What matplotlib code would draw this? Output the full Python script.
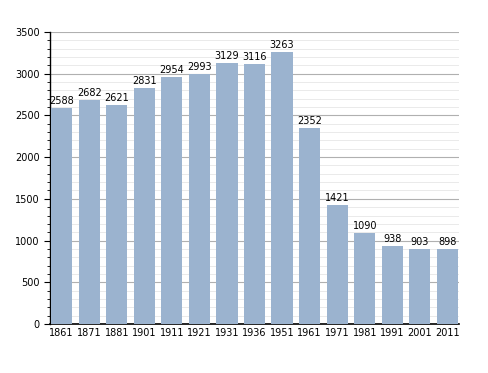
import matplotlib
matplotlib.use("Agg")
import matplotlib.pyplot as plt
from matplotlib.ticker import MultipleLocator

anni = ["1861", "1871", "1881", "1901", "1911", "1921", "1931", "1936",
        "1951", "1961", "1971", "1981", "1991", "2001", "2011"]
abitanti = [2588, 2682, 2621, 2831, 2954, 2993, 3129, 3116,
            3263, 2352, 1421, 1090, 938, 903, 898]

fig = plt.figure(figsize=(4.88, 3.73), dpi=100)
ax = fig.add_axes([0.1025, 0.1314, 0.838, 0.783])

x = range(len(anni))
barre = ax.bar(x, abitanti, width=0.77, color="#9bb3cf", zorder=3)
for xi, v in zip(x, abitanti):
    ax.text(xi, v + 25, str(v), ha="center", va="bottom", fontsize=7, zorder=4)

ax.set_xlim(-0.42, len(anni) - 0.58)
ax.set_ylim(0, 3500)
ax.set_xticks(list(x))
ax.set_xticklabels(anni, fontsize=7)
ax.yaxis.set_major_locator(MultipleLocator(500))
ax.yaxis.set_minor_locator(MultipleLocator(100))
ax.tick_params(axis="y", labelsize=7, length=4, width=0.8)
ax.tick_params(axis="y", which="minor", length=2.5, width=0.6)
ax.tick_params(axis="x", length=0, pad=3)

ax.grid(axis="y", which="major", color="#b0b0b0", linewidth=0.8, zorder=0)
ax.grid(axis="y", which="minor", color="#e6e6e6", linewidth=0.6, zorder=0)

for lato in ["top", "right"]:
    ax.spines[lato].set_visible(False)
ax.spines["left"].set_linewidth(1.0)
ax.spines["bottom"].set_linewidth(1.2)

fig.savefig("out.png", dpi=100)
